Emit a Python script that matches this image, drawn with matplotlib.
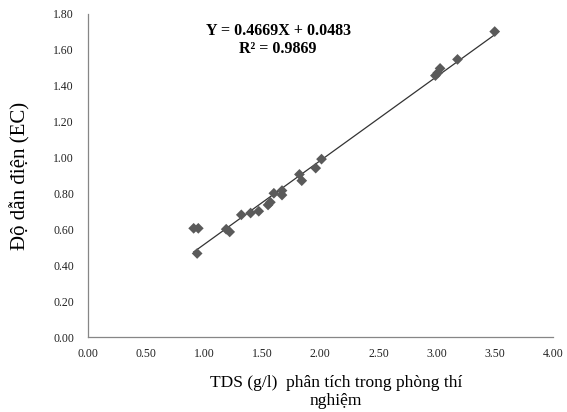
import matplotlib
matplotlib.use('Agg')
import matplotlib.pyplot as plt
import numpy as np

# TDS (g/l) measured in lab vs conductivity (EC)
tds = [0.91, 0.95, 0.94, 1.19, 1.22, 1.32, 1.40, 1.47, 1.55, 1.57,
       1.60, 1.67, 1.67, 1.82, 1.84, 1.96, 2.01, 2.99, 3.01, 3.03,
       3.18, 3.50]
ec = [0.605, 0.605, 0.465, 0.60, 0.585, 0.68, 0.69, 0.70, 0.735, 0.75,
      0.80, 0.815, 0.79, 0.905, 0.87, 0.94, 0.99, 1.455, 1.47, 1.495,
      1.545, 1.70]

slope = 0.4669
intercept = 0.0483
r2 = 0.9869

xticks = [0, 0.5, 1.0, 1.5, 2.0, 2.5, 3.0, 3.5, 4.0]
yticks = [0, 0.2, 0.4, 0.6, 0.8, 1.0, 1.2, 1.4, 1.6, 1.8]

plt.rcParams['font.family'] = ['Liberation Serif', 'DejaVu Serif']

fig = plt.figure(figsize=(5.67, 4.12), dpi=100)
ax = fig.add_axes([0.155, 0.182, 0.82, 0.785])

# trendline over the data range
xl = np.array([min(tds), max(tds)])
ax.plot(xl, slope * xl + intercept, color='#333333', lw=0.9, zorder=2)
ax.scatter(tds, ec, marker='D', s=30, color='#5a5a5a', edgecolors='none', zorder=3)

ax.set_xlim(0, 4.0)
ax.set_ylim(0, 1.8)
ax.set_xticks(xticks)
ax.set_yticks(yticks)
ax.set_xticklabels([f'{v:.2f}' for v in xticks])
ax.set_yticklabels([f'{v:.2f}' for v in yticks])
ax.tick_params(length=0, labelsize=8.5, labelcolor='#222222')
ax.tick_params(axis='y', pad=10)
ax.tick_params(axis='x', pad=8)

for s in ['top', 'right']:
    ax.spines[s].set_visible(False)
for s in ['left', 'bottom']:
    ax.spines[s].set_color('#868686')
    ax.spines[s].set_linewidth(0.9)

fig.text(336 / 567, 1 - 392 / 412, 'TDS (g/l)  phân tích trong phòng thí\nnghiệm',
         ha='center', va='center', fontsize=12.5, linespacing=1.1)
fig.text(20 / 567, 1 - 176 / 412, 'Độ dẫn điện (EC)', rotation=90,
         ha='center', va='center', fontsize=15)

ax.text(0.409, 0.946, f'Y = {slope:.4f}X + {intercept:.4f}', transform=ax.transAxes,
        ha='center', va='center', fontsize=11.5, fontweight='bold')
ax.text(0.409, 0.890, f'R² = {r2:.4f}', transform=ax.transAxes,
        ha='center', va='center', fontsize=11.5, fontweight='bold')

fig.savefig('out.png', dpi=100)
